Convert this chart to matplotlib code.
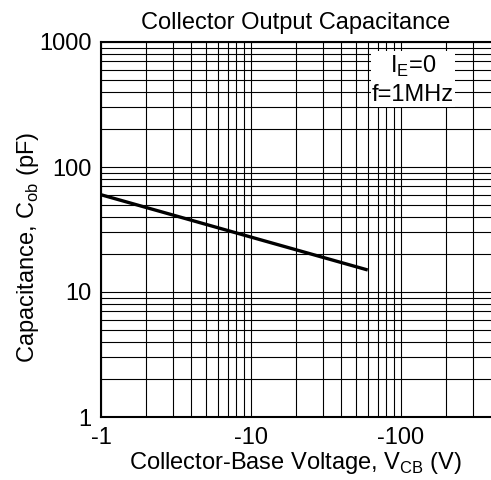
import matplotlib as mpl
mpl.use('Agg')
import matplotlib.pyplot as plt
from matplotlib.ticker import FixedLocator, FixedFormatter, LogLocator, NullFormatter

# data (|Vcb| in V, Cob in pF)
vcb = [1, 10, 60]
cob = [60, 27.5, 15]

xticks = [1, 10, 100]
xlabels = ['-1', '-10', '-100']
yticks = [1, 10, 100, 1000]
ylabels = ['1', '10', '100', '1000']

plt.rcParams['font.family'] = ['Liberation Sans', 'DejaVu Sans']

fig = plt.figure(figsize=(4.91, 4.80), dpi=100)
ax = fig.add_axes([101/491, 63/480, 390/491, 375/480])

ax.set_xscale('log')
ax.set_yscale('log')
ax.set_xlim(1, 10**2.6)
ax.set_ylim(1, 1000)

ax.plot(vcb, cob, color='black', lw=2.4, solid_capstyle='butt', zorder=3)

ax.xaxis.set_major_locator(FixedLocator(xticks))
ax.xaxis.set_major_formatter(FixedFormatter(xlabels))
ax.xaxis.set_minor_locator(LogLocator(base=10, subs=range(2, 10), numticks=20))
ax.xaxis.set_minor_formatter(NullFormatter())
ax.yaxis.set_major_locator(FixedLocator(yticks))
ax.yaxis.set_major_formatter(FixedFormatter(ylabels))
ax.yaxis.set_minor_locator(LogLocator(base=10, subs=range(2, 10), numticks=20))
ax.yaxis.set_minor_formatter(NullFormatter())

ax.grid(True, which='both', color='black', lw=0.8)
ax.tick_params(which='both', length=0, labelsize=17, pad=7)

ax.spines['right'].set_visible(False)
for s in ['left', 'bottom', 'top']:
    ax.spines[s].set_linewidth(1.5)

ax.set_title('Collector Output Capacitance', fontsize=17, pad=9)
ax.set_xlabel(r'Collector-Base Voltage, V$_{\mathregular{CB}}$ (V)', fontsize=17, labelpad=1)
ax.set_ylabel(r'Capacitance, C$_{\mathregular{ob}}$ (pF)', fontsize=17)
ax.yaxis.set_label_coords(-0.154, 0.452)

ax.text(0.80, 0.899, 'I$_{\\mathregular{E}}$=0\nf=1MHz', transform=ax.transAxes,
        ha='center', va='center', fontsize=17, linespacing=1.3,
        bbox=dict(facecolor='white', edgecolor='none', pad=1), zorder=4)

fig.savefig('out.png', dpi=100)
